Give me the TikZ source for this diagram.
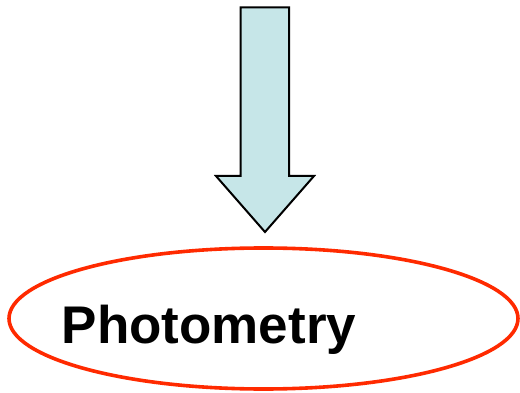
\documentclass[tikz,border=0pt]{standalone}
\usepackage{fontspec}
\setmainfont{Liberation Sans}
\usetikzlibrary{shapes.geometric}
\definecolor{arrowfill}{HTML}{C6E6E8}
\definecolor{ellred}{HTML}{FF2A00}
\tikzset{
  bigarrow/.style={draw=black, line width=2pt, fill=arrowfill, line join=miter},
  oval/.style={draw=ellred, line width=3.6pt},
  label/.style={font=\fontsize{53}{60}\selectfont\bfseries, inner sep=0pt, anchor=base west}
}
\begin{document}
\begin{tikzpicture}[x=1pt,y=-1pt]
\useasboundingbox (0,0) rectangle (520,393);
\draw[bigarrow] (240.5,7.5) -- (289,7.5) -- (289,176) -- (314,176) -- (265,232) -- (216,176) -- (240.5,176) -- cycle;
\draw[oval] (263.5,318.5) ellipse [x radius=254.5, y radius=70.5];
\node[label] (photo) at (61.5,343) {Photometry};
\end{tikzpicture}
\end{document}
